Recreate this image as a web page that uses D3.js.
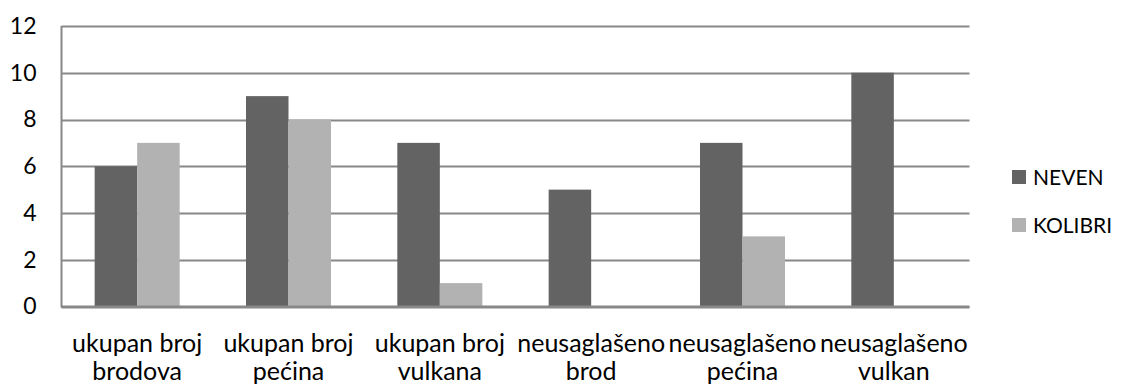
<!DOCTYPE html>
<html>
<head>
<meta charset="utf-8">
<script src="https://cdn.jsdelivr.net/npm/d3@7"></script>
<style>
  html, body { margin: 0; padding: 0; background: #fff; }
  svg { display: block; }
  text { font-family: Lato, "Liberation Sans", sans-serif; fill: #000; }
</style>
</head>
<body>
<svg id="chart" width="1121" height="385"></svg>
<script>
// Category labels (two lines each)
const categories = [
  ["ukupan broj", "brodova"],
  ["ukupan broj", "pećina"],
  ["ukupan broj", "vulkana"],
  ["neusaglašeno", "brod"],
  ["neusaglašeno", "pećina"],
  ["neusaglašeno", "vulkan"]
];
const seriesNames = ["NEVEN", "KOLIBRI"];
const nevenValues = [6, 9, 7, 5, 7, 10];
const kolibriValues = [7, 8, 1, 0, 3, 0];
const yTicks = [0, 2, 4, 6, 8, 10, 12];
const seriesColors = ["#636363", "#b2b2b2"];

const svg = d3.select("#chart");
const plotLeft = 61.5, plotRight = 969.5, plotTop = 26, plotBottom = 306.5;

const keys = categories.map((c, i) => i);
const x0 = d3.scaleBand().domain(keys).range([plotLeft, plotRight]).paddingInner(0).paddingOuter(0);
const x1 = d3.scaleBand().domain(seriesNames)
  .range([0, x0.bandwidth()]).paddingInner(0).paddingOuter(0.78);
const y = d3.scaleLinear().domain([0, 12]).range([plotBottom, plotTop]);

// Horizontal gridlines
svg.append("g")
  .selectAll("line")
  .data(yTicks)
  .join("line")
  .attr("x1", plotLeft).attr("x2", plotRight)
  .attr("y1", d => Math.round(y(d)) + 0.5)
  .attr("y2", d => Math.round(y(d)) + 0.5)
  .attr("stroke", "#888888")
  .attr("stroke-width", 2);

// Bars
const values = [nevenValues, kolibriValues];
const groups = svg.append("g")
  .selectAll("g")
  .data(keys)
  .join("g")
  .attr("transform", d => `translate(${x0(d)},0)`);

groups.selectAll("rect")
  .data(i => seriesNames.map((s, si) => ({ s, si, v: values[si][i] })))
  .join("rect")
  .attr("x", d => x1(d.s))
  .attr("width", x1.bandwidth())
  .attr("y", d => y(d.v))
  .attr("height", d => y(0) - y(d.v))
  .attr("fill", d => seriesColors[d.si]);

// Left axis line and baseline
svg.append("line")
  .attr("x1", plotLeft).attr("x2", plotLeft)
  .attr("y1", plotTop).attr("y2", plotBottom + 1)
  .attr("stroke", "#888888").attr("stroke-width", 2);
svg.append("line")
  .attr("x1", plotLeft).attr("x2", plotRight)
  .attr("y1", plotBottom).attr("y2", plotBottom)
  .attr("stroke", "#888888").attr("stroke-width", 2);

// Y tick labels
const yAxis = d3.axisLeft(y).tickValues(yTicks).tickSize(0).tickPadding(25);
const gy = svg.append("g").attr("transform", `translate(${plotLeft},0)`).call(yAxis);
gy.select(".domain").remove();
gy.selectAll("text")
  .attr("font-family", "Lato, 'Liberation Sans', sans-serif")
  .attr("font-size", 23)
  .attr("fill", "#000");

// Category labels
const labels = svg.append("g")
  .selectAll("text")
  .data(keys)
  .join("text")
  .attr("x", d => x0(d) + x0.bandwidth() / 2)
  .attr("text-anchor", "middle")
  .attr("font-size", 25);
labels.selectAll("tspan")
  .data(d => categories[d].map((t, li) => ({ t, li })))
  .join("tspan")
  .attr("x", function () { return d3.select(this.parentNode).attr("x"); })
  .attr("y", d => 352 + d.li * 28)
  .text(d => d.t);

// Legend
const legend = svg.append("g")
  .selectAll("g")
  .data(seriesNames)
  .join("g")
  .attr("transform", (d, i) => `translate(1012,${170 + i * 48})`);
legend.append("rect")
  .attr("width", 14).attr("height", 14)
  .attr("fill", (d, i) => seriesColors[i]);
legend.append("text")
  .attr("x", 21).attr("y", 14.5)
  .attr("font-size", 21)
  .text(d => d);
</script>
</body>
</html>
